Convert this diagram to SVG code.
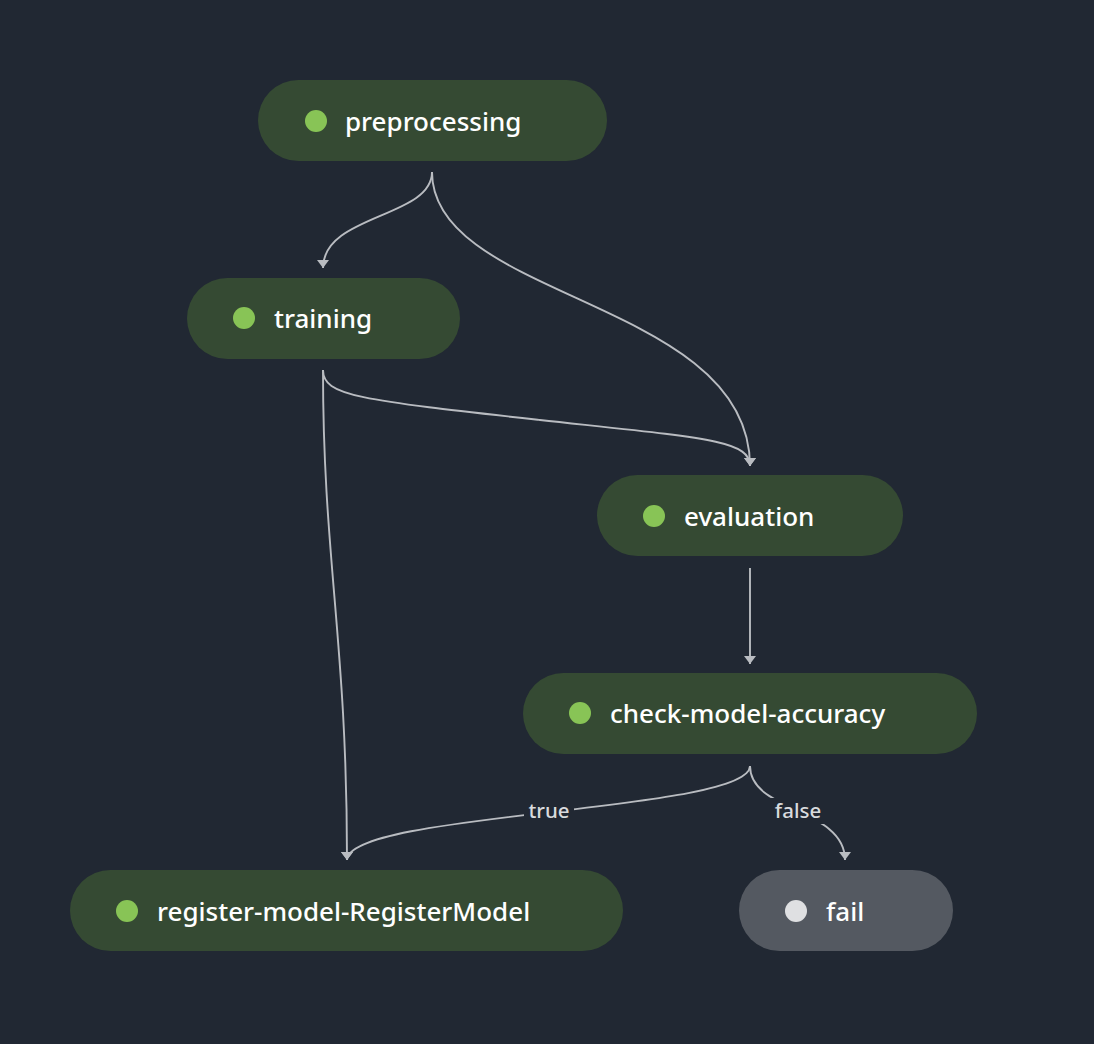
<svg xmlns="http://www.w3.org/2000/svg" width="1094" height="1044" viewBox="0 0 1094 1044">
  <style>
    .node rect { fill: #354a33; }
    .node circle { fill: #88c456; }
    .node.idle rect { fill: #545961; }
    .node.idle circle { fill: #dfe0e2; }
    .node text { fill: #ffffff; font-family: "Noto Sans", "Open Sans", sans-serif; font-size: 26px; font-weight: 500; }
    .edge { fill: none; stroke: #b9bcc1; stroke-width: 1.9; }
    .elabel rect { fill: #212833; }
    .elabel text { fill: #d9dbde; font-family: "Noto Sans", "Open Sans", sans-serif; font-size: 20.5px; font-weight: 500; text-anchor: middle; }
  </style>
  <defs>
    <marker id="tip" viewBox="-6 -8 12 10" refX="0" refY="0" markerWidth="12" markerHeight="10" markerUnits="userSpaceOnUse" orient="0">
      <path d="M-6,-8 L6,-8 L0,0 Z" fill="#b9bcc1"/>
    </marker>
  </defs>

  <rect width="1094" height="1044" fill="#212833"/>

  <g id="edges">
    <path class="edge" marker-end="url(#tip)" d="M432,172 C432,218 323,214 323,268"/>
    <path class="edge" marker-end="url(#tip)" d="M432,172 C432,300 750,300 750,466"/>
    <path class="edge" marker-end="url(#tip)" d="M323,370 C323,396 360,400 540,420 C705,438 750,440 750,466"/>
    <path class="edge" marker-end="url(#tip)" d="M323,370 C323,560 347,640 347,860"/>
    <path class="edge" marker-end="url(#tip)" d="M750,568 L750,664"/>
    <path class="edge" marker-end="url(#tip)" d="M750,766 C750,812 347,812 347,860"/>
    <path class="edge" marker-end="url(#tip)" d="M750,766 C750,812 845,808 845,860"/>
    <g class="elabel">
      <rect x="524" y="798" width="50" height="26"/>
      <text x="549" y="818">true</text>
    </g>
    <g class="elabel">
      <rect x="770" y="798" width="56" height="26"/>
      <text x="798" y="818">false</text>
    </g>
  </g>

  <g id="node-preprocessing" class="node">
    <rect x="258" y="80" width="349" height="81" rx="40.5"/>
    <circle cx="316" cy="121" r="11"/>
    <text x="345" y="131">preprocessing</text>
  </g>
  <g id="node-training" class="node">
    <rect x="187" y="278" width="273" height="81" rx="40.5"/>
    <circle cx="244" cy="318" r="11"/>
    <text x="274" y="328">training</text>
  </g>
  <g id="node-evaluation" class="node">
    <rect x="597" y="475" width="306" height="81" rx="40.5"/>
    <circle cx="654" cy="516" r="11"/>
    <text x="684" y="526">evaluation</text>
  </g>
  <g id="node-check-model-accuracy" class="node">
    <rect x="523" y="673" width="454" height="81" rx="40.5"/>
    <circle cx="580" cy="713" r="11"/>
    <text x="610" y="723">check-model-accuracy</text>
  </g>
  <g id="node-register-model" class="node">
    <rect x="70" y="870" width="553" height="81" rx="40.5"/>
    <circle cx="127" cy="911" r="11"/>
    <text x="157" y="921">register-model-RegisterModel</text>
  </g>
  <g id="node-fail" class="node idle">
    <rect x="739" y="870" width="214" height="81" rx="40.5"/>
    <circle cx="796" cy="911" r="11"/>
    <text x="826" y="921">fail</text>
  </g>
</svg>
